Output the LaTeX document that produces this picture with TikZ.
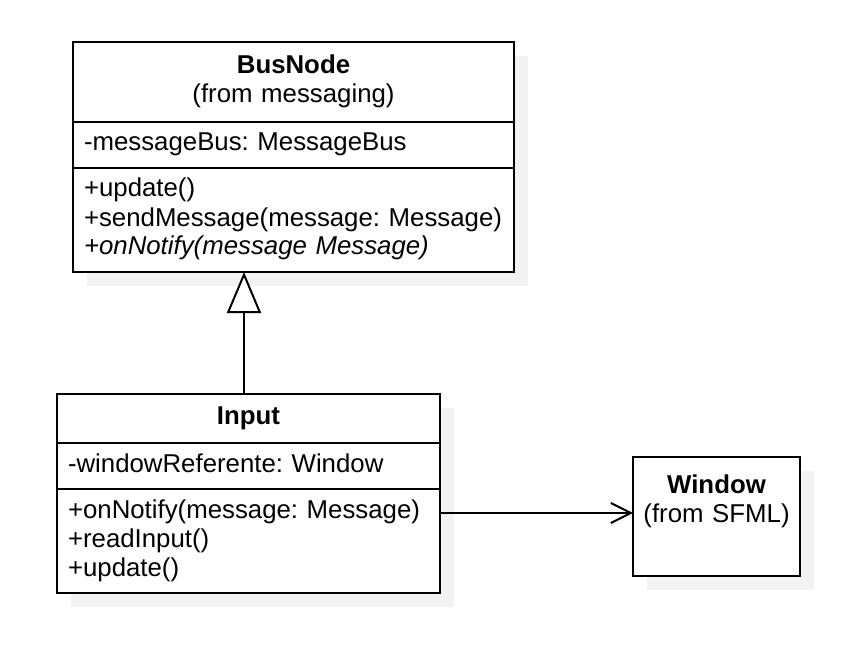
\documentclass[tikz,border=0pt]{standalone}
\usepackage{fontspec}
\setmainfont{Liberation Sans}
\usetikzlibrary{shapes,arrows.meta,positioning,shadows}
\definecolor{shadowgray}{RGB}{242,242,242}
\newcommand{\umlstrut}{\rule[-8.5pt]{0pt}{29pt}}
\newcommand{\umlfont}{\fontsize{25.8}{29}\selectfont\frenchspacing\hyphenpenalty=10000}
\tikzstyle{umlbox} = [rectangle, draw, fill=white, line width=2pt, outer sep=0pt, inner xsep=11pt, inner ysep=8.5pt, font=\umlfont, drop shadow={shadow xshift=14pt, shadow yshift=-14pt, opacity=1, fill=shadowgray}]
\tikzstyle{classname} = [umlbox, align=center]
\tikzstyle{members} = [umlbox, align=left]
\tikzstyle{inherit} = [line width=2pt, -{Triangle[open, fill=white, length=41pt, width=34pt]}]
\tikzstyle{assoc} = [line width=2pt, -{Straight Barb[length=20pt, width=20pt]}]

\begin{document}
\begin{tikzpicture}[x=1pt, y=-1pt]
    \useasboundingbox (0,0) rectangle (842,652);
    % BusNode
    \node[classname, anchor=north west, text width=419pt, minimum height=80pt] (busHead) at (73,42) {\umlstrut\textbf{BusNode}\\\umlstrut(from messaging)};
    \node[members, below=0pt of busHead, text width=419pt] (busAttr) {\umlstrut-messageBus: MessageBus};
    \node[members, below=0pt of busAttr, text width=419pt] (busOps) {\umlstrut+update()\\\umlstrut+sendMessage(message: Message)\\\umlstrut\textit{+onNotify(message Message)}};
    % Input
    \node[classname, anchor=north west, text width=361pt, minimum height=49pt] (inHead) at (57,394) {\umlstrut\textbf{Input}};
    \node[members, below=0pt of inHead, text width=361pt] (inAttr) {\umlstrut-windowReferente: Window};
    \node[members, below=0pt of inAttr, text width=361pt] (inOps) {\umlstrut+onNotify(message: Message)\\\umlstrut+readInput()\\\umlstrut+update()};
    % Window
    \node[classname, anchor=north west, text width=151pt, inner xsep=8pt, inner ysep=16pt] (win) at (633,457) {\umlstrut\textbf{Window}\\\umlstrut(from SFML)\\\umlstrut};

    \draw[inherit] ([xshift=187pt]inHead.north west) -- ([xshift=187pt]inHead.north west |- busOps.south);
    \draw[assoc] ([yshift=-24pt]inOps.north east) -- ([yshift=-24pt]inOps.north east -| win.west);
\end{tikzpicture}
\end{document}
